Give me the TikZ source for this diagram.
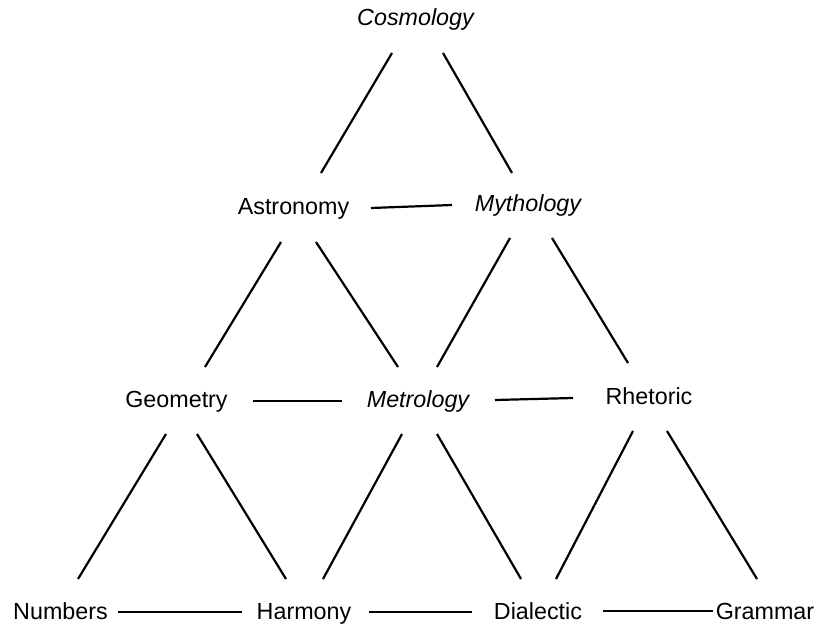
\documentclass[tikz,border=0pt]{standalone}
\usepackage{fontspec}
\setmainfont{Liberation Sans}
\usetikzlibrary{calc}
\tikzset{
  lbl/.style={anchor=base, inner sep=0pt, font=\fontsize{23.3}{28}\selectfont},
  ilbl/.style={lbl, font=\fontsize{23.3}{28}\selectfont\itshape},
  link/.style={line width=2.2pt, black}
}
\begin{document}
\begin{tikzpicture}[x=1pt,y=-1pt]
\useasboundingbox[fill=white] (0,0) rectangle (817,626);
% nodes
\node[ilbl] (cos) at (415.5,26) {Cosmology};
\node[lbl]  (ast) at (293.5,214) {Astronomy};
\node[ilbl] (myth) at (528,211) {Mythology};
\node[lbl]  (geo) at (176.5,407) {Geometry};
\node[ilbl] (met) at (418,407) {Metrology};
\node[lbl]  (rhet) at (649,404) {Rhetoric};
\node[lbl]  (num) at (60.5,619) {Numbers};
\node[lbl]  (harm) at (304,619) {Harmony};
\node[lbl]  (dial) at (538,619) {Dialectic};
\node[lbl]  (gram) at (765,619) {Grammar};
% connectors
\draw[link] ($(cos.base)+(-23.5,27)$) -- ($(ast.base)+(27.5,-41)$);
\draw[link] ($(cos.base)+(27.5,27)$) -- ($(myth.base)+(-16,-38)$);
\draw[link] ($(ast.base)+(77.5,-6)$) -- ($(myth.base)+(-76,-6)$);
\draw[link] ($(ast.base)+(-12.5,28)$) -- ($(geo.base)+(28.5,-40)$);
\draw[link] ($(ast.base)+(22.5,28)$) -- ($(met.base)+(-20,-40)$);
\draw[link] ($(myth.base)+(-18,27)$) -- ($(met.base)+(19,-40)$);
\draw[link] ($(myth.base)+(24,27)$) -- ($(rhet.base)+(-21,-41)$);
\draw[link] ($(geo.base)+(76.5,-6)$) -- ($(met.base)+(-76,-6)$);
\draw[link] ($(met.base)+(77,-7)$) -- ($(rhet.base)+(-76,-6)$);
\draw[link] ($(geo.base)+(-10.5,27)$) -- ($(num.base)+(17.5,-40)$);
\draw[link] ($(geo.base)+(20.5,27)$) -- ($(harm.base)+(-18,-40)$);
\draw[link] ($(met.base)+(-16,27)$) -- ($(harm.base)+(19,-40)$);
\draw[link] ($(met.base)+(19,27)$) -- ($(dial.base)+(-17,-40)$);
\draw[link] ($(rhet.base)+(-16,27)$) -- ($(dial.base)+(18,-40)$);
\draw[link] ($(rhet.base)+(18,27)$) -- ($(gram.base)+(-8,-40)$);
\draw[link] ($(num.base)+(57.5,-7)$) -- ($(harm.base)+(-62,-7)$);
\draw[link] ($(harm.base)+(65,-7)$) -- ($(dial.base)+(-66,-7)$);
\draw[link] ($(dial.base)+(65,-8)$) -- ($(gram.base)+(-52,-8)$);
\end{tikzpicture}
\end{document}
